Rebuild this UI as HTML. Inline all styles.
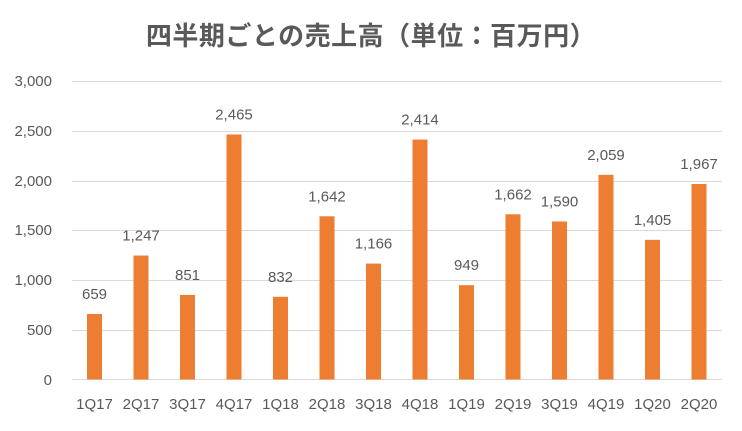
<!DOCTYPE html>
<html><head><meta charset="utf-8"><style>
html,body{margin:0;padding:0;background:#fff;}
svg text{font-family:"Liberation Sans","Noto Sans CJK JP",sans-serif;fill:#595959;}
</style></head><body>
<svg width="742" height="426" viewBox="0 0 742 426" xmlns="http://www.w3.org/2000/svg">
<text x="371" y="45" text-anchor="middle" font-size="26" font-weight="bold" letter-spacing="0.5">四半期ごとの売上高（単位：百万円）</text>
<g stroke="#d9d9d9" stroke-width="1">
<line x1="72" x2="722" y1="81.5" y2="81.5"/>
<line x1="72" x2="722" y1="131.5" y2="131.5"/>
<line x1="72" x2="722" y1="181.5" y2="181.5"/>
<line x1="72" x2="722" y1="230.5" y2="230.5"/>
<line x1="72" x2="722" y1="280.5" y2="280.5"/>
<line x1="72" x2="722" y1="330.5" y2="330.5"/>
<line x1="72" x2="722" y1="379.5" y2="379.5"/>
</g>
<g font-size="15" text-anchor="end">
<text x="52" y="86">3,000</text>
<text x="52" y="136">2,500</text>
<text x="52" y="186">2,000</text>
<text x="52" y="235">1,500</text>
<text x="52" y="285">1,000</text>
<text x="52" y="335">500</text>
<text x="52" y="385">0</text>
</g>
<g id="bars" fill="#ED7D31"></g>
<g id="lbl" font-size="15" text-anchor="middle"></g>
<g id="cat" font-size="15" text-anchor="middle"></g>
</svg>
<script>
var v=[659,1247,851,2465,832,1642,1166,2414,949,1662,1590,2059,1405,1967];
var c=["1Q17","2Q17","3Q17","4Q17","1Q18","2Q18","3Q18","4Q18","1Q19","2Q19","3Q19","4Q19","1Q20","2Q20"];
var ns="http://www.w3.org/2000/svg",b=document.getElementById("bars"),l=document.getElementById("lbl"),k=document.getElementById("cat");
for(var i=0;i<14;i++){var x=87+i*46.5,h=v[i]*0.0994,y=379.5-h;
var r=document.createElementNS(ns,"rect");r.setAttribute("x",x);r.setAttribute("y",y);r.setAttribute("width",15);r.setAttribute("height",h);b.appendChild(r);
var t=document.createElementNS(ns,"text");t.setAttribute("x",x+7.5);t.setAttribute("y",y-15);t.textContent=v[i].toLocaleString("en-US");l.appendChild(t);
var u=document.createElementNS(ns,"text");u.setAttribute("x",x+7.5);u.setAttribute("y",409);u.textContent=c[i];k.appendChild(u);}
</script>
</body></html>
